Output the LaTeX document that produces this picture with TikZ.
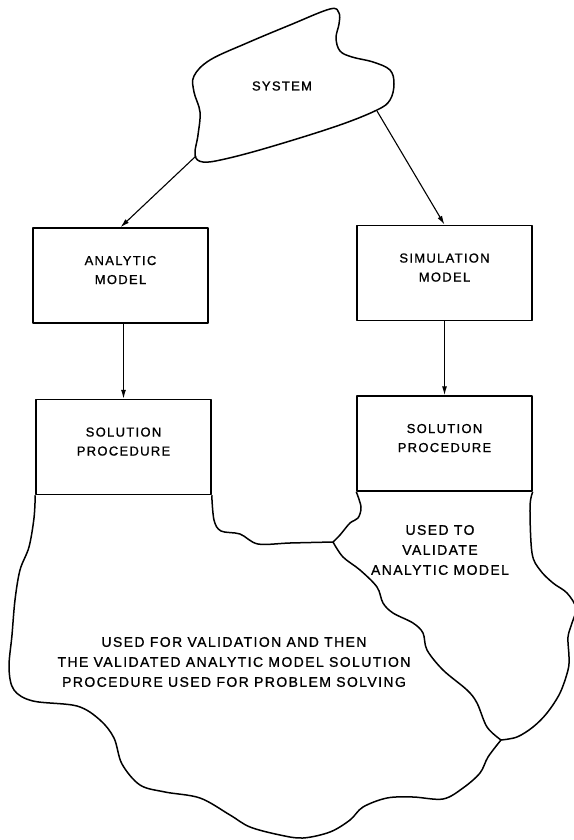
\documentclass[tikz,border=0pt]{standalone}
\usepackage{fontspec}
\setmainfont[LetterSpace=10, FakeBold=1]{Liberation Sans}
\usetikzlibrary{positioning,arrows.meta}

\begin{document}
\begin{tikzpicture}[x=1pt, y=-1pt, line width=1.5pt, line join=round,
	box/.style={draw, minimum width=175pt, minimum height=95pt, text depth=11pt, align=center, font=\fontsize{13}{19}\selectfont},
	arr/.style={-{Latex[length=9pt,width=5pt]}, line width=1.1pt},
	note/.style={align=center, font=\fontsize{14}{20}\selectfont}]
	\useasboundingbox (0,0) rectangle (573,840);
	\node [font=\fontsize{13}{19}\selectfont] (sys) at (282,86) {SYSTEM};
	\draw plot [smooth cycle, tension=0.6] coordinates {(330,9) (339,13) (339,24) (336,38) (340,51) (352,57) (373,62) (390,70) (394,84) (390,100) (377,110) (337,126) (270,147) (225,159) (203,162) (195,155) (198,135) (200,112) (194,92) (194,76) (210,60) (247,43) (290,25)};
	\coordinate (sysL) at (196,156);
	\coordinate (sysR) at (377,111);
	\node [box] (amodel) at (120.5,275.5) {ANALYTIC\\MODEL};
	\node [box, below=75pt of amodel, xshift=3pt] (asol) {SOLUTION\\PROCEDURE};
	\node [box] (smodel) at (444.5,273) {SIMULATION\\MODEL};
	\node [box, below=74pt of smodel] (ssol) {SOLUTION\\PROCEDURE};
	\draw [arr] (sysL) to (amodel.north);
	\draw [arr] (sysR) to (smodel.north);
	\draw [arr] (asol.north |- amodel.south) to (asol.north);
	\draw [arr] (ssol.north |- smodel.south) to (ssol.north);
	\coordinate (jtop) at (333,542);
	\coordinate (jbot) at (501,740);
	\draw plot [smooth, tension=0.55] coordinates {(asol.south west) (34,518) (29,547) (20,570) (15,600) (12,635) (9,668) (14,690) (33,701) (77,706) (100,720) (114,738) (122,764) (140,785) (165,792) (200,798) (230,815) (250,827) (280,835) (303,838) (330,832) (350,820) (363,807) (387,798) (413,797) (443,799) (463,788) (480,773) (488,757) (jbot)};
	\draw plot [smooth, tension=0.55] coordinates {(asol.south east) (214,520) (221,531) (240,534) (258,544) (290,543) (jtop)};
	\draw plot [smooth, tension=0.55] coordinates {(jtop) (343,557) (360,570) (377,587) (383,603) (393,613) (413,623) (423,633) (427,650) (443,670) (467,690) (477,703) (487,727) (jbot)};
	\draw plot [smooth, tension=0.55] coordinates {(jtop) (340,535) (350,523) (358,518) (361,507) (ssol.south west)};
	\draw plot [smooth, tension=0.55] coordinates {(ssol.south east) (530,507) (532,553) (540,570) (553,583) (567,593) (576,608) (572,623) (568,637) (569,657) (568,670) (560,693) (547,713) (533,727) (517,737) (jbot)};
	\node [note] (anote) at (234,662) {USED FOR VALIDATION AND THEN\\THE VALIDATED ANALYTIC MODEL SOLUTION\\PROCEDURE USED FOR PROBLEM SOLVING};
	\node [note] (snote) at (440,550) {USED TO\\VALIDATE\\ANALYTIC MODEL};
\end{tikzpicture}
\end{document}
